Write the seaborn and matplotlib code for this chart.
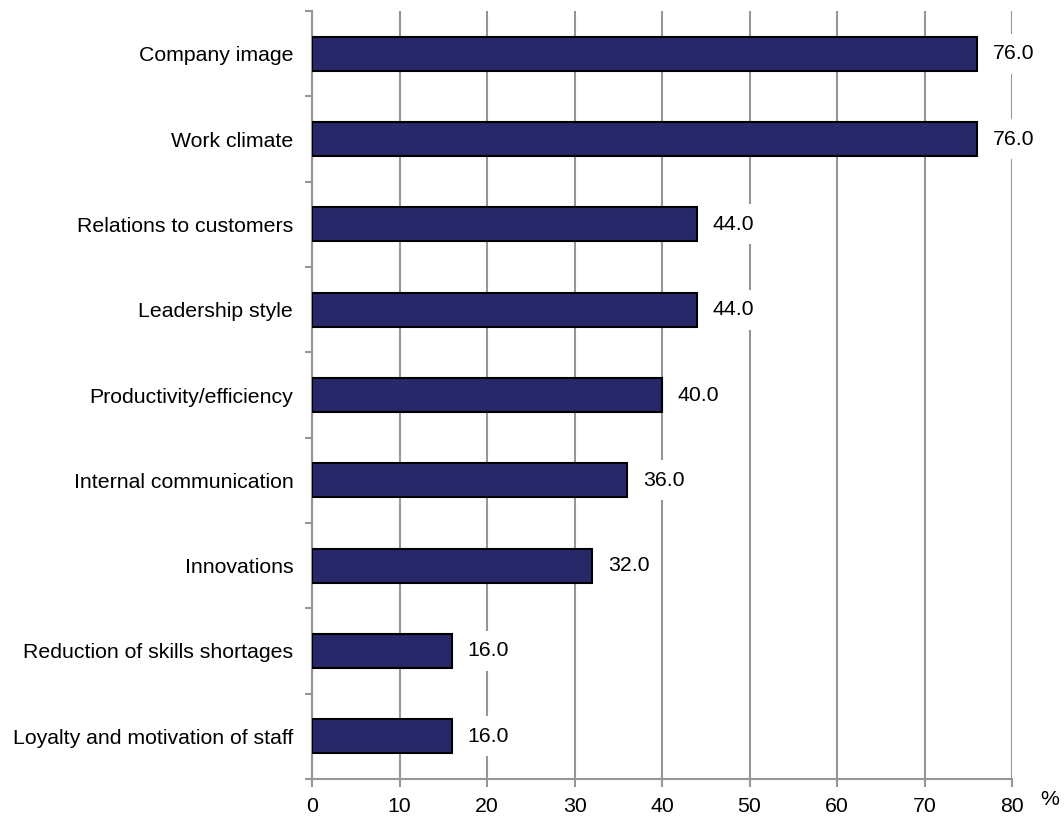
import matplotlib
matplotlib.use("Agg")
import matplotlib.pyplot as plt
import seaborn as sns
import pandas as pd
import numpy as np
from matplotlib.ticker import FixedLocator

categories = [
    "Company image",
    "Work climate",
    "Relations to customers",
    "Leadership style",
    "Productivity/efficiency",
    "Internal communication",
    "Innovations",
    "Reduction of skills shortages",
    "Loyalty and motivation of staff",
]
values = [76.0, 76.0, 44.0, 44.0, 40.0, 36.0, 32.0, 16.0, 16.0]
x_ticks = [0, 10, 20, 30, 40, 50, 60, 70, 80]

sns.set_theme(style="white")
plt.rcParams["font.family"] = ["Liberation Sans", "DejaVu Sans"]

FS = 15.3

df = pd.DataFrame({"category": categories, "value": values})

fig = plt.figure(figsize=(10.64, 8.17), dpi=100)
ax = fig.add_axes([312 / 1064, 1 - 779 / 817, 700 / 1064, 768 / 817])

bar_color = "#262869"
grid_color = "#969696"

sns.barplot(data=df, y="category", x="value", orient="h", color=bar_color,
            width=0.4, edgecolor="black", linewidth=1.5, saturation=1, ax=ax, zorder=3)

ax.set_xlim(0, 80)
ax.set_ylim(len(categories) - 0.5, -0.5)
ax.xaxis.set_major_locator(FixedLocator(x_ticks))
ax.set_xticklabels([str(t) for t in x_ticks], fontsize=FS, color="black")
ax.tick_params(axis="x", length=6, width=1.5, color=grid_color, pad=7, bottom=True)

ax.grid(axis="x", color=grid_color, linewidth=1.5, zorder=0)
ax.grid(axis="y", visible=False)
ax.set_axisbelow(True)

ax.tick_params(axis="y", which="major", length=0, pad=13.5, labelsize=FS, labelcolor="black")
ax.yaxis.set_minor_locator(FixedLocator(np.arange(-0.5, len(categories), 1.0)))
ax.tick_params(axis="y", which="minor", length=5, width=1.5, color=grid_color, left=True)

for side in ("top", "right"):
    ax.spines[side].set_visible(False)
for side in ("left", "bottom"):
    ax.spines[side].set_color(grid_color)
    ax.spines[side].set_linewidth(1.5)

ax.set_xlabel("")
ax.set_ylabel("")

# value labels sit on a white box that masks the gridlines behind them
for i, v in enumerate(values):
    ax.text(v + 1.8, i, f"{v:.1f}", va="center", ha="left", fontsize=FS, color="black",
            zorder=4,
            bbox=dict(boxstyle="square,pad=0.5", facecolor="white", edgecolor="none"))

ax.text(1.054, -0.027, "%", transform=ax.transAxes, fontsize=FS, ha="center", va="center",
        color="black")

fig.savefig("out.png", dpi=100)
